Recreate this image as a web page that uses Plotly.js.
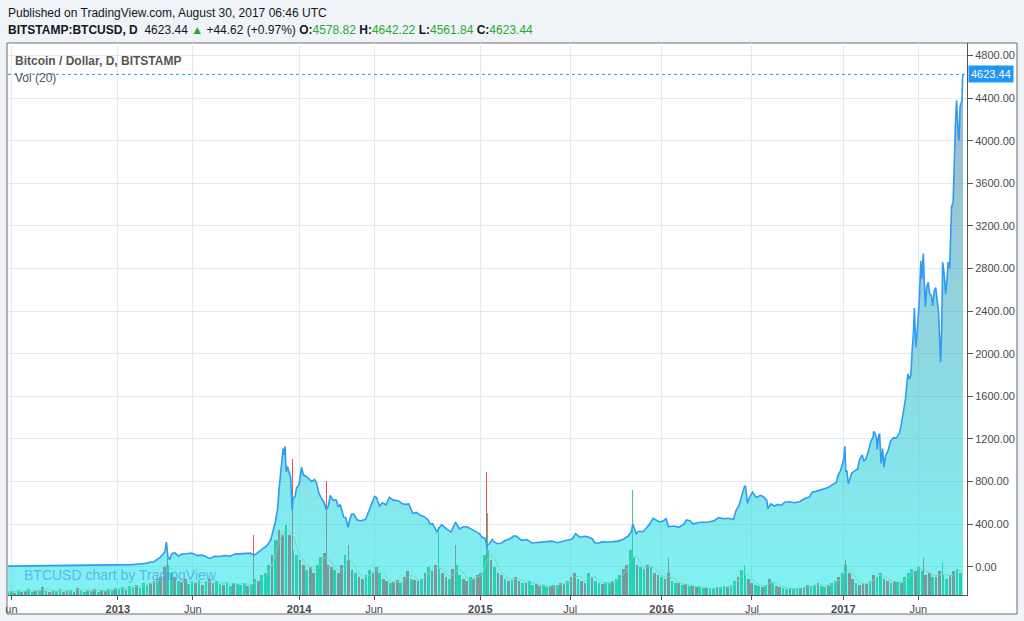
<!DOCTYPE html>
<html><head><meta charset="utf-8">
<script src="https://cdn.plot.ly/plotly-3.0.1.min.js"></script>
<style>html,body{margin:0;padding:0;background:#f0f3f7;}#chart{width:1024px;height:621px;}</style>
</head><body><div id="chart"></div>
<script>
// ---- price data (daily close) ----
const btc2012 = [['05-25',5.1],['06-08',5.6],['06-22',6.4],['07-06',6.7],['07-20',8.6],['08-03',10.8],['08-16',13.0],['08-19',9.2],['08-31',10.1],['09-14',11.5],['09-28',12.4],['10-12',11.8],['10-26',10.5],['11-09',10.9],['11-23',12.3],['12-07',13.3],['12-21',13.4]];
const btc2013 = [['01-01',13.5],['01-15',14.5],['01-30',19.5],['02-12',25],['02-26',31],['03-07',42],['03-15',47],['03-22',70],['03-28',90],['04-02',118],['04-06',142],['04-09',230],['04-10',165],['04-12',92],['04-16',68],['04-18',105],['04-22',128],['04-27',127],['05-03',98],['05-10',118],['05-20',122],['05-30',128],['06-10',106],['06-20',108],['06-27',95],['07-05',77],['07-15',98],['07-25',95],['08-05',105],['08-15',98],['08-25',118],['09-05',123],['09-15',126],['09-25',127],['10-02',108],['10-08',125],['10-20',170],['10-28',195],['11-05',250],['11-10',330],['11-14',415],['11-17',490],['11-19',550],['11-22',740],['11-26',910],['11-30',1110],['12-02',1050],['12-04',1130],['12-06',890],['12-09',940],['12-11',900],['12-15',840],['12-17',660],['12-18',530],['12-20',640],['12-24',660],['12-27',740]];
const btc2014 = [['01-01',770],['01-06',935],['01-10',860],['01-15',850],['01-20',830],['01-27',800],['02-01',820],['02-05',790],['02-10',690],['02-14',650],['02-20',610],['02-25',535],['03-01',570],['03-05',670],['03-10',625],['03-17',625],['03-21',560],['03-25',585],['04-01',465],['04-05',460],['04-10',370],['04-13',440],['04-17',495],['04-21',495],['04-28',440],['05-05',430],['05-15',445],['05-22',520],['05-27',585],['06-02',660],['06-06',650],['06-12',570],['06-18',600],['06-25',580],['07-02',650],['07-10',625],['07-20',620],['07-28',590],['08-04',585],['08-10',590],['08-18',500],['08-25',510],['09-03',480],['09-10',470],['09-17',445],['09-22',400],['09-27',405],['10-05',330],['10-10',360],['10-15',395],['10-25',355],['11-03',325],['11-12',420],['11-15',400],['11-20',355],['11-28',375],['12-05',375],['12-15',350],['12-22',330],['12-30',310]];
const btc2015 = [['01-05',275],['01-10',270],['01-13',225],['01-14',178],['01-16',210],['01-19',212],['01-25',255],['01-28',235],['02-05',215],['02-12',220],['02-20',245],['03-01',260],['03-10',290],['03-15',285],['03-25',247],['04-05',255],['04-15',222],['04-25',225],['05-05',235],['05-15',237],['05-25',240],['06-05',225],['06-15',235],['06-25',244],['07-05',260],['07-12',310],['07-20',277],['07-30',285],['08-05',280],['08-15',260],['08-19',225],['08-25',220],['09-05',235],['09-15',230],['09-25',235],['10-05',240],['10-15',255],['10-25',285],['11-01',325],['11-04',400],['11-06',375],['11-11',310],['11-15',330],['11-25',330],['12-01',360],['12-08',400],['12-15',455],['12-20',440],['12-28',420]];
const btc2016 = [['01-05',430],['01-10',450],['01-15',375],['01-20',380],['01-28',380],['02-05',370],['02-15',400],['02-20',440],['02-28',430],['03-05',400],['03-15',415],['03-25',415],['04-05',420],['04-15',430],['04-25',460],['05-05',450],['05-15',455],['05-25',445],['05-30',530],['06-05',575],['06-12',675],['06-16',755],['06-18',755],['06-22',595],['06-26',650],['07-02',700],['07-10',650],['07-18',670],['07-25',655],['07-31',620],['08-02',545],['08-08',590],['08-15',570],['08-22',585],['08-29',575],['09-05',605],['09-15',610],['09-25',600],['10-05',610],['10-15',640],['10-25',655],['10-30',700],['11-05',705],['11-11',715],['11-20',730],['11-30',740],['12-10',770],['12-18',790],['12-22',865],['12-26',900],['12-30',960]];
const btc2017 = [['01-02',1020],['01-04',1130],['01-05',990],['01-06',890],['01-08',905],['01-11',780],['01-14',820],['01-18',880],['01-24',900],['01-30',920],['02-03',1010],['02-08',1050],['02-11',990],['02-15',1010],['02-20',1080],['02-25',1170],['03-02',1220],['03-03',1270],['03-06',1250],['03-09',1200],['03-10',1100],['03-13',1230],['03-15',1250],['03-18',970],['03-21',1110],['03-24',935],['03-27',1040],['04-01',1090],['04-06',1180],['04-12',1210],['04-18',1210],['04-24',1255],['04-28',1345],['05-03',1500],['05-06',1570],['05-09',1720],['05-11',1810],['05-14',1760],['05-17',1800],['05-20',2060],['05-22',2180],['05-24',2430],['05-25',2320],['05-27',2060],['05-30',2230],['06-03',2510],['06-06',2870],['06-08',2700],['06-11',2940],['06-13',2670],['06-15',2440],['06-18',2630],['06-21',2670],['06-24',2560],['06-27',2550],['06-30',2450],['07-03',2590],['07-06',2620],['07-09',2500],['07-12',2380],['07-15',2000],['07-16',1920],['07-18',2230],['07-20',2860],['07-23',2750],['07-26',2560],['07-29',2720],['07-31',2860],['08-03',2800],['08-05',3220],['08-07',3380],['08-10',3420],['08-12',3860],['08-13',4050],['08-15',4190],['08-17',4380],['08-19',4150],['08-20',4080],['08-22',4000],['08-24',4320],['08-26',4350],['08-28',4380],['08-29',4580],['08-30',4623.44]];

// ---- volume (weekly samples from 2012-05-25, relative units) ----
const volStart = '2012-05-25';
const vol2012 = [3,4,2,5,3,4,6,3,4,5,8,4,3,5,4,6,3,4,5,3,7,4,3,5,4,6,3,5,4,6,5,7];
const vol2013 = [6,8,5,9,8,10,7,12,10,12,14,16,18,28,30,22,18,14,12,16,11,13,12,15,10,14,16,12,14,11,10,13,9,12,11,10,12,9,11,16,14,20,22,30,40,55,65,60,70,60,45,40];
const vol2014 = [35,30,25,28,22,30,38,42,30,28,25,22,30,40,35,25,22,18,16,20,25,22,28,22,16,14,12,13,15,12,18,24,16,15,14,16,22,28,24,30,26,22,18,16,26,30,20,16,14,18,16,20];
const vol2015 = [22,40,45,35,28,22,20,16,14,16,18,14,12,12,14,10,11,9,10,8,9,10,10,12,11,14,18,22,16,14,12,22,18,14,12,11,13,12,14,16,20,26,30,45,38,30,28,26,30,28,22,20];
const vol2016 = [18,16,22,14,12,12,10,11,9,9,8,8,7,7,6,7,8,8,9,8,10,14,18,25,20,16,12,10,9,8,10,16,12,9,8,7,6,7,6,7,7,8,10,9,10,12,9,8,10,12,14,18,22];
const vol2017 = [30,22,16,12,10,12,11,14,20,18,22,16,14,12,14,13,12,18,22,26,24,28,24,20,22,18,18,24,20,16,20,24,26,22];
const volDir = ['uududduudududduuddudduudududduud','uuduuduuuddudduududduudududduuduuduuuduuduuududdudu','uddudduudddudduddudduuddudduddudduddududdudduduuddud','dduududdududduduudduuddudduddudduduuduuduudduuduudud','dudduudududduuduuduuduuduudduudududduuduududuuduuduudu','udduddduduuddududuuuduuddudduudduu'];
const spikeDates = ['2013-04-10','2013-10-02','2013-11-18','2013-12-18','2014-02-25','2014-04-10','2014-10-08','2014-11-12','2015-01-14','2015-01-15','2015-11-04','2016-01-15','2016-06-16','2017-01-05','2017-06-12','2017-07-20'];
const spikeVol = [37,60,54,136,114,50,68,50,123,82,105,37,30,35,37,33];
const spikeDir = ['d','d','d','d','d','d','u','d','d','u','u','d','u','d','d','u'];

// ---- axes / labels ----
const xTickVals = ['2012-06-01','2013-01-01','2013-06-01','2014-01-01','2014-06-01','2015-01-01','2015-07-01','2016-01-01','2016-07-01','2017-01-01','2017-06-01'];
const xTickText = ['un','<b>2013</b>','Jun','<b>2014</b>','Jun','<b>2015</b>','Jul','<b>2016</b>','Jul','<b>2017</b>','Jun'];
const lastClose = 4623.44;
const change = '+44.62 (+0.97%)';
const ohlcLabels = ['O','H','L','C'];
const ohlcValues = ['4578.82','4642.22','4561.84','4623.44'];

// ---- build ----
const years = [[2012,btc2012],[2013,btc2013],[2014,btc2014],[2015,btc2015],[2016,btc2016],[2017,btc2017]];
const pX = [], pY = [];
years.forEach(([yr, arr]) => arr.forEach(([md, v]) => { pX.push(yr + '-' + md); pY.push(v); }));

const volVals = [].concat(vol2012, vol2013, vol2014, vol2015, vol2016, vol2017);
const dirs = volDir.join('');
const t0 = Date.parse(volStart + 'T00:00:00Z');
const vX = volVals.map((_, k) => new Date(t0 + k * 7 * 86400000).toISOString().slice(0, 10));
const UP = '#4bc37d', DOWN = '#ef5350';
const vCol = volVals.map((_, k) => (dirs[k] || 'u') === 'u' ? UP : DOWN);
const maY = volVals.map((_, k) => { const s = volVals.slice(Math.max(0, k - 2), k + 1); return s.reduce((a, b) => a + b, 0) / s.length; });

const traces = [
  {type:'bar', x:vX, y:volVals, yaxis:'y', marker:{color:vCol, line:{width:0}}, width:5.5*86400000, hoverinfo:'skip'},
  {type:'bar', x:spikeDates, y:spikeVol, yaxis:'y', marker:{color:spikeDir.map(d => d === 'u' ? UP : DOWN), line:{width:0}}, width:2*86400000, hoverinfo:'skip'},
  {type:'scatter', mode:'lines', x:vX, y:maY, yaxis:'y', line:{color:'rgba(230,205,130,0.9)', width:1, shape:'spline'}, hoverinfo:'skip'},
  {type:'scatter', mode:'lines', x:pX, y:pX.map(() => -500), yaxis:'y2', line:{width:0, color:'rgba(0,0,0,0)'}, hoverinfo:'skip'},
  {type:'scatter', mode:'lines', x:pX, y:pY, yaxis:'y2', fill:'tonexty',
   fillgradient:{type:'vertical', start:-266, stop:4650, colorscale:[[0,'rgba(0,228,232,0.5)'],[1,'rgba(85,125,160,0.55)']]},
   line:{color:'#2f9cf2', width:1.6}, hoverinfo:'skip'}
];

const pxY = p => (595 - p) / 552;
const pxX = p => (p - 8) / 959;
const green = '#2ea82e';
const hdr2 = '<b>BITSTAMP:BTCUSD, D</b>  ' + lastClose.toFixed(2) + ' <span style="color:#22a922">▲</span> ' + change + ' ' +
  ohlcLabels.map((l, i) => '<b>' + l + ':</b><span style="color:' + green + '">' + ohlcValues[i] + '</span>').join(' ');

const layout = {
  width:1024, height:621,
  margin:{l:8, r:57, t:43, b:26},
  paper_bgcolor:'#f0f3f7', plot_bgcolor:'#ffffff',
  showlegend:false, bargap:0,
  font:{family:'Liberation Sans, Arial, sans-serif', color:'#4a4a4a', size:11},
  xaxis:{type:'date', range:['2012-05-25','2017-09-07'], tickvals:xTickVals, ticktext:xTickText,
    showgrid:true, gridcolor:'#e3eaf1', gridwidth:1, showline:true, linecolor:'#555', linewidth:1,
    ticks:'outside', ticklen:4, tickcolor:'#555', tickfont:{size:11, color:'#4a4a4a'}, zeroline:false, fixedrange:true},
  yaxis:{range:[0,552], visible:false, fixedrange:true},
  yaxis2:{overlaying:'y', side:'right', range:[-266,4918], tick0:0, dtick:400, tickformat:'.2f',
    showgrid:true, gridcolor:'#e3eaf1', gridwidth:1, zeroline:false, showline:true, linecolor:'#555', linewidth:1,
    ticks:'outside', ticklen:5, tickcolor:'#555', tickfont:{size:11, color:'#4a4a4a'}, fixedrange:true},
  shapes:[
    {type:'rect', xref:'paper', yref:'paper', x0:pxX(7), x1:pxX(1017), y0:pxY(614), y1:pxY(43), line:{color:'#6a6a6a', width:1}, fillcolor:'#ffffff', layer:'below'},
    {type:'line', xref:'paper', yref:'y2', x0:0, x1:1, y0:lastClose, y1:lastClose, line:{color:'#2196f3', width:1, dash:'dot'}}
  ],
  annotations:[
    {xref:'paper', yref:'paper', x:pxX(6), y:pxY(13), xanchor:'left', yanchor:'middle', showarrow:false,
     text:'Published on TradingView.com, August 30, 2017 06:46 UTC', font:{size:12, color:'#131722'}},
    {xref:'paper', yref:'paper', x:pxX(6), y:pxY(30), xanchor:'left', yanchor:'middle', showarrow:false,
     text:hdr2, font:{size:12, color:'#131722'}},
    {xref:'paper', yref:'paper', x:pxX(13), y:pxY(61), xanchor:'left', yanchor:'middle', showarrow:false,
     text:'<b>Bitcoin / Dollar, D, BITSTAMP</b>', font:{size:12, color:'#555'}},
    {xref:'paper', yref:'paper', x:pxX(13), y:pxY(78), xanchor:'left', yanchor:'middle', showarrow:false,
     text:'Vol (20)', font:{size:12, color:'#555'}},
    {xref:'paper', yref:'paper', x:pxX(22), y:pxY(575), xanchor:'left', yanchor:'middle', showarrow:false,
     text:'BTCUSD chart by TradingView', font:{size:14, color:'rgba(70,150,225,0.65)'}},
    {xref:'paper', yref:'y2', x:1, y:lastClose, xanchor:'left', yanchor:'middle', showarrow:false, xshift:1,
     text:lastClose.toFixed(2), bgcolor:'#2196f3', borderpad:2, font:{size:11, color:'#ffffff'}}
  ]
};

Plotly.newPlot('chart', traces, layout, {staticPlot:true, displayModeBar:false});
</script></body></html>
